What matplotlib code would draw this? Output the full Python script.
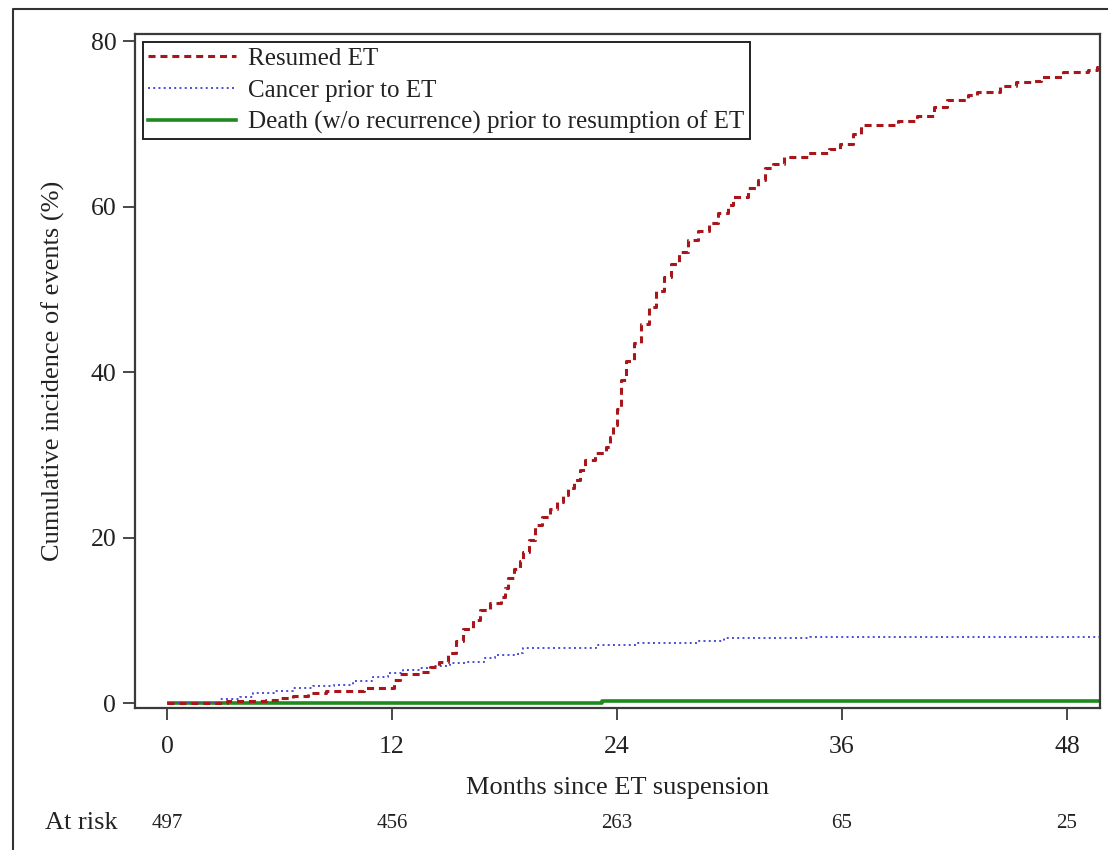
import matplotlib
matplotlib.use("Agg")
import matplotlib.pyplot as plt
from matplotlib.lines import Line2D

plt.rcParams['font.family'] = ['Liberation Serif', 'DejaVu Serif']

# ---- data ----
resumed_t = [0, 3.2, 4.3, 5.3, 6.0, 6.7, 7.5, 8.5, 10.5, 12.1, 12.4, 13.5, 14.0, 14.5, 15.0,
             15.4, 15.8, 16.3, 16.7, 17.2, 17.8, 18.0, 18.2, 18.5, 18.8, 19.0, 19.3, 19.6, 20.0,
             20.4, 20.8, 21.1, 21.4, 21.7, 22.0, 22.3, 22.8, 23.4, 23.6, 23.8, 24.0, 24.2, 24.5,
             24.9, 25.3, 25.7, 26.1, 26.5, 26.9, 27.3, 27.8, 28.3, 28.9, 29.4, 29.9, 30.2, 31.0,
             31.5, 31.9, 32.3, 32.9, 34.2, 35.3, 35.9, 36.6, 37.0, 39.0, 40.0, 40.9, 41.6, 42.7,
             43.2, 44.4, 45.3, 46.2, 46.6, 47.8, 49.1, 49.6, 49.7, 49.76]
resumed_v = [0, 0.2, 0.3, 0.4, 0.6, 0.8, 1.2, 1.5, 1.8, 2.8, 3.5, 3.8, 4.3, 5.0, 6.0,
             7.5, 9.0, 10.0, 11.3, 12.1, 12.8, 13.9, 15.1, 16.2, 17.2, 18.3, 19.7, 21.5, 22.5,
             23.5, 24.3, 25.2, 26.0, 27.0, 28.2, 29.4, 30.2, 31.0, 32.1, 33.6, 35.5, 39.0, 41.3,
             43.5, 45.8, 47.8, 49.8, 51.5, 53.0, 54.5, 56.0, 57.0, 58.0, 59.2, 60.2, 61.2, 62.3,
             63.2, 64.6, 65.2, 66.0, 66.5, 67.0, 67.5, 68.8, 69.8, 70.3, 71.0, 72.0, 72.9, 73.5,
             73.9, 74.6, 75.0, 75.2, 75.6, 76.2, 76.5, 76.9, 77.4, 77.4]

cancer_t = [0, 2.8, 3.9, 4.6, 5.7, 6.7, 7.8, 8.9, 9.9, 11.0, 11.8, 12.6, 13.5, 14.2, 15.1,
            16.0, 16.9, 17.5, 18.7, 19.0, 22.9, 25.0, 28.3, 29.7, 34.3, 49.76]
cancer_v = [0, 0.5, 0.7, 1.2, 1.4, 1.8, 2.0, 2.2, 2.7, 3.2, 3.6, 4.0, 4.2, 4.5, 4.8,
            5.0, 5.4, 5.8, 6.0, 6.6, 7.0, 7.2, 7.5, 7.8, 8.0, 8.0]

death_t = [0, 23.2, 49.76]
death_v = [0, 0.2, 0.2]

labels = ["Resumed ET", "Cancer prior to ET", "Death (w/o recurrence) prior to resumption of ET"]
xticks = [0, 12, 24, 36, 48]
yticks = [0, 20, 40, 60, 80]
at_risk = [497, 456, 263, 65, 25]

# ---- styles ----
RED = '#a8161c'
BLUE = '#4a4ad8'
GREEN = '#1e8a1e'
AX = '#3a3a3a'
TXT = '#222222'
FS_TICK = 18.5
FS_LABEL = 19
FS_LEG = 18
FS_RISK = 15

fig = plt.figure(figsize=(11.08, 8.5), dpi=100)
ax = fig.add_axes([135/1108, 1-708/850, (1100-135)/1108, (708-34)/850])

ax.step(death_t, death_v, where='post', color=GREEN, lw=2.6, solid_capstyle='butt')
ax.step(cancer_t, cancer_v, where='post', color=BLUE, lw=1.4, linestyle=(0, (1, 1.7)))
ax.step(resumed_t, resumed_v, where='post', color=RED, lw=2.2, linestyle=(0, (2.3, 1.6)))

ax.set_xlim(-1.71, 49.76)
ax.set_ylim(-0.6, 80.85)
ax.set_xticks(xticks)
ax.set_yticks(yticks)
ax.tick_params(axis='both', direction='out', length=8.5, width=1.3, color=AX,
               labelsize=FS_TICK, labelcolor=TXT, pad=5)
ax.tick_params(axis='x', pad=12)
for s in ax.spines.values():
    s.set_color(AX)
    s.set_linewidth(1.6)

ax.set_ylabel("Cumulative incidence of events (%)", fontsize=FS_LABEL, color=TXT, labelpad=18)
ax.set_xlabel("Months since ET suspension", fontsize=FS_LABEL, color=TXT, labelpad=13)

handles = [Line2D([], [], color=RED, lw=2.2, linestyle=(0, (2.3, 1.6))),
           Line2D([], [], color=BLUE, lw=1.4, linestyle=(0, (1, 1.7))),
           Line2D([], [], color=GREEN, lw=2.6)]
leg = ax.legend(handles, labels, loc='upper left', fontsize=FS_LEG, frameon=True, fancybox=False,
                framealpha=1, edgecolor=TXT, handlelength=3.5, handletextpad=0.5,
                borderaxespad=0.33, borderpad=0.2, labelspacing=0.37)
leg.get_frame().set_linewidth(1.4)
for t in leg.get_texts():
    t.set_color(TXT)

# at-risk row
fig.text(45/1108, 1-823/850, "At risk", fontsize=FS_LABEL, ha='left', va='center', color=TXT)
risk_y = -(823-708)/674
for xv, n in zip(xticks, at_risk):
    ax.text(xv, risk_y, str(n), transform=ax.get_xaxis_transform(),
            fontsize=FS_RISK, ha='center', va='center', color=TXT, clip_on=False)

# figure frame (left and top edges visible)
fig.add_artist(Line2D([13/1108, 13/1108, 1.0], [0.0, 1-9/850, 1-9/850],
                      transform=fig.transFigure, color='#333333', lw=1.5))

fig.savefig("out.png", dpi=100)
